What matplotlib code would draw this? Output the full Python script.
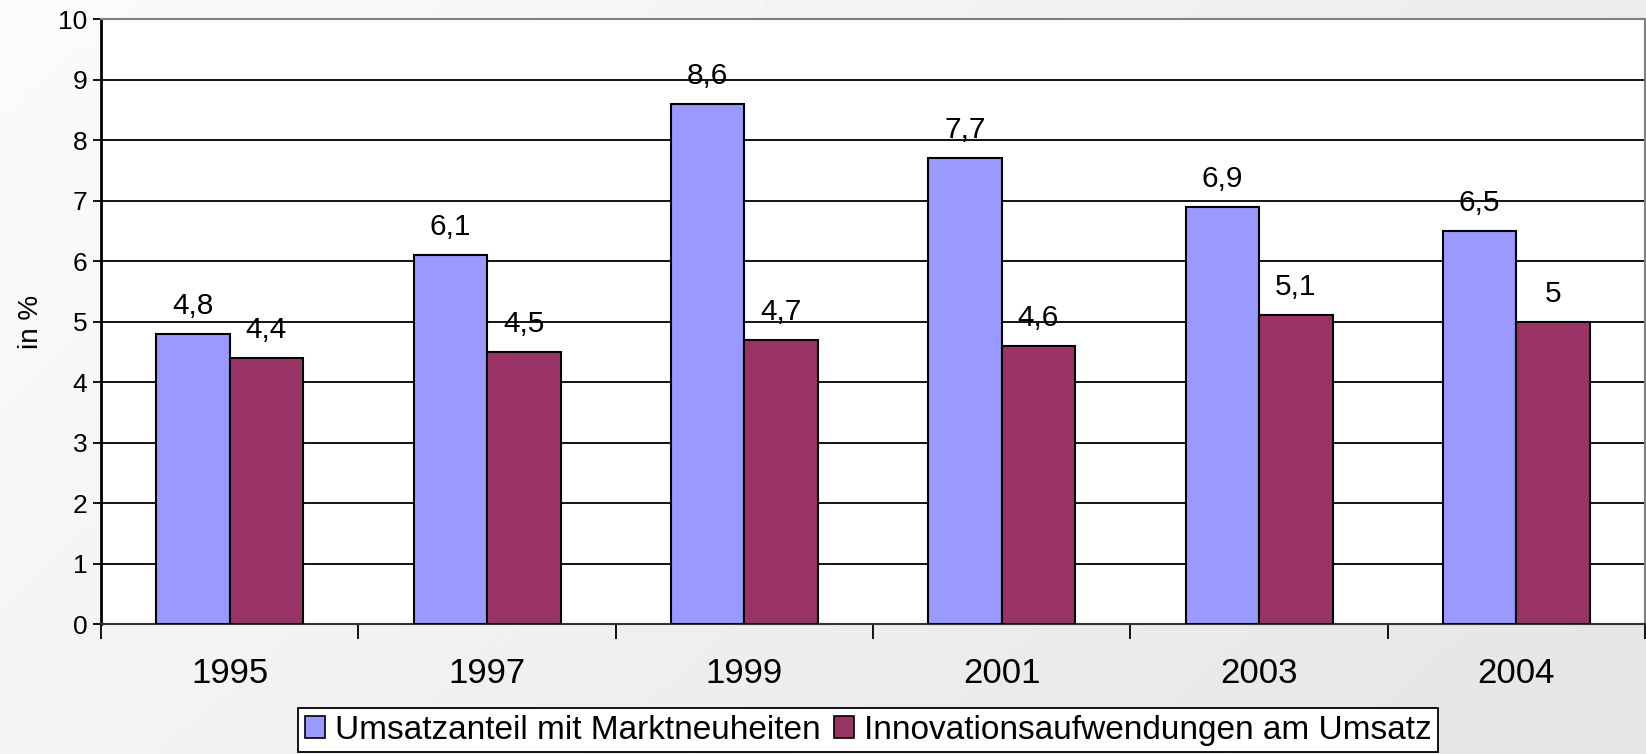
import numpy as np
import matplotlib
matplotlib.use("Agg")
import matplotlib.pyplot as plt
from matplotlib.patches import Patch

plt.rcParams['font.family'] = ['Liberation Sans', 'DejaVu Sans']

years = ['1995', '1997', '1999', '2001', '2003', '2004']
umsatzanteil = [4.8, 6.1, 8.6, 7.7, 6.9, 6.5]
innovation = [4.4, 4.5, 4.7, 4.6, 5.1, 5.0]
series_names = ['Umsatzanteil mit Marktneuheiten', 'Innovationsaufwendungen am Umsatz']
colors = ['#9999FF', '#993366']

fig = plt.figure(figsize=(16.46, 7.54), dpi=100)

# light gray gradient background
bg = fig.add_axes([0, 0, 1, 1], zorder=-10)
gx, gy = np.meshgrid(np.linspace(0, 1, 200), np.linspace(0, 1, 100))
shade = 0.985 - 0.06 * gx - 0.03 * gy
bg.imshow(shade, cmap='gray', vmin=0, vmax=1, aspect='auto', origin='upper',
          extent=[0, 1, 0, 1])
bg.axis('off')

ax = fig.add_axes([0.0614, 0.1724, 0.9380, 0.8024])
ax.set_facecolor('white')

x = np.arange(len(years))
w = 0.2857
ax.bar(x - w / 2, umsatzanteil, w, color=colors[0], edgecolor='black', linewidth=1.5, zorder=3)
ax.bar(x + w / 2, innovation, w, color=colors[1], edgecolor='black', linewidth=1.5, zorder=3)

for xs, vals in [(x - w / 2, umsatzanteil), (x + w / 2, innovation)]:
    for xi, v in zip(xs, vals):
        ax.text(xi, v + 0.33, f"{v:g}".replace('.', ','), ha='center', va='baseline',
                fontsize=21.5, zorder=4)

ax.set_xlim(-0.5, len(years) - 0.5)
ax.set_ylim(0, 10)
ax.set_yticks(range(0, 11))
ax.yaxis.grid(True, color='black', linewidth=1.3)
ax.set_axisbelow(True)

ax.set_xticks(x)
ax.set_xticklabels(years, fontsize=25)
ax.tick_params(axis='x', length=0, pad=24)
ax.set_xticks(np.arange(-0.5, len(years)), minor=True)
ax.tick_params(axis='x', which='minor', length=11, width=1.3, color='black')
ax.tick_params(axis='y', length=6, width=1.3, labelsize=19, pad=4)

ax.spines['left'].set_linewidth(2)
ax.spines['left'].set_color('black')
ax.spines['bottom'].set_linewidth(1.5)
ax.spines['bottom'].set_color('#333333')
ax.spines['top'].set_color('#808080')
ax.spines['top'].set_linewidth(1.5)
ax.spines['right'].set_color('#808080')
ax.spines['right'].set_linewidth(1.5)

ax.set_ylabel('in %', fontsize=20, labelpad=10)

handles = [Patch(facecolor=c, edgecolor='black', linewidth=1.2) for c in colors]
leg = fig.legend(handles, series_names, loc='lower center', bbox_to_anchor=(0.5276, 0.0),
                 ncol=2, fontsize=24, frameon=True, fancybox=False, edgecolor='black',
                 framealpha=1, borderpad=0.2, handlelength=0.6, handleheight=0.6,
                 handletextpad=0.3, columnspacing=0.4, borderaxespad=0.05)
leg.get_frame().set_linewidth(1.3)

fig.savefig('out.png', dpi=100)
